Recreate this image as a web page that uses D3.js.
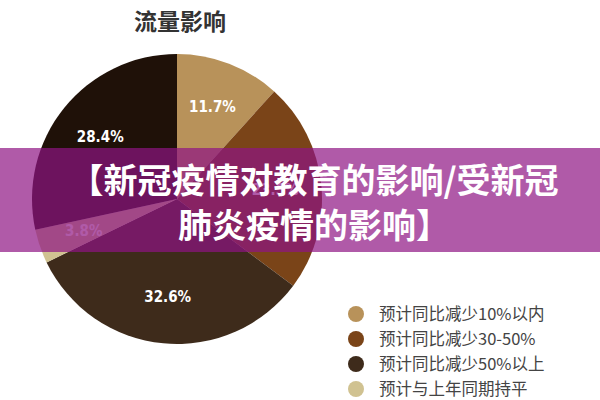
<!DOCTYPE html>
<html>
<head>
<meta charset="utf-8">
<script src="https://cdn.jsdelivr.net/npm/d3@7"></script>
<style>
  body { margin: 0; background: #fff; }
  svg { display: block; }
</style>
</head>
<body>
<svg id="chart" width="600" height="400"></svg>
<script>
// Chart data
const sliceNames = ["预计同比减少10%以内", "预计同比减少30-50%", "预计同比减少50%以上", "预计与上年同期持平", "其他"];
const sliceValues = [11.7, 23.5, 32.6, 3.8, 28.4];
const sliceColors = ["#b8925a", "#7a4418", "#3e2b1b", "#d0c291", "#1f1108"];
const legendNames = sliceNames.slice(0, 4);
const bannerLines = ["【新冠疫情对教育的影响/受新冠", "肺炎疫情的影响】"];

const svg = d3.select("#chart");
const cx = 177, cy = 199, r = 145;

svg.append("text")
    .attr("x", 180).attr("y", 30)
    .attr("text-anchor", "middle")
    .attr("font-family", "Noto Sans CJK SC")
    .attr("font-weight", "bold")
    .attr("font-size", 23)
    .attr("fill", "#333")
    .text("流量影响");

const pie = d3.pie().sort(null).value(d => d);
const arc = d3.arc().innerRadius(0).outerRadius(r);
const labelArc = d3.arc().innerRadius(r * 0.68).outerRadius(r * 0.68);

const g = svg.append("g").attr("transform", `translate(${cx},${cy})`);
const arcs = pie(sliceValues);

g.selectAll("path")
    .data(arcs)
    .join("path")
    .attr("d", arc)
    .attr("fill", (d, i) => sliceColors[i]);

g.selectAll("text")
    .data(arcs)
    .join("text")
    .attr("transform", d => `translate(${labelArc.centroid(d)})`)
    .attr("text-anchor", "middle")
    .attr("dy", "0.35em")
    .attr("font-family", "Liberation Sans Narrow, DejaVu Sans Condensed, sans-serif")
    .attr("font-weight", "bold")
    .attr("font-size", 15)
    .attr("fill", "#fff")
    .text(d => d.data.toFixed(1) + "%");

// Legend
const legend = svg.append("g");
legendNames.forEach((name, i) => {
    const y = 314 + i * 25;
    legend.append("circle")
        .attr("cx", 356).attr("cy", y).attr("r", 8)
        .attr("fill", sliceColors[i]);
    legend.append("text")
        .attr("x", 379).attr("y", y)
        .attr("dy", "0.36em")
        .attr("font-family", "Noto Sans CJK SC")
        .attr("font-size", 16.5)
        .attr("fill", "#444")
        .text(name);
});

// Banner overlay
svg.append("rect")
    .attr("x", 0).attr("y", 148)
    .attr("width", 600).attr("height", 104)
    .attr("fill", "rgb(143,20,131)")
    .attr("fill-opacity", 0.7);

bannerLines.forEach((line, i) => {
    svg.append("text")
        .attr("x", 314).attr("y", 181 + i * 45)
        .attr("dy", "0.36em")
        .attr("text-anchor", "middle")
        .attr("font-family", "Noto Sans CJK SC")
        .attr("font-weight", "bold")
        .attr("font-size", 34)
        .attr("fill", "#fff")
        .text(line);
});
</script>
</body>
</html>
